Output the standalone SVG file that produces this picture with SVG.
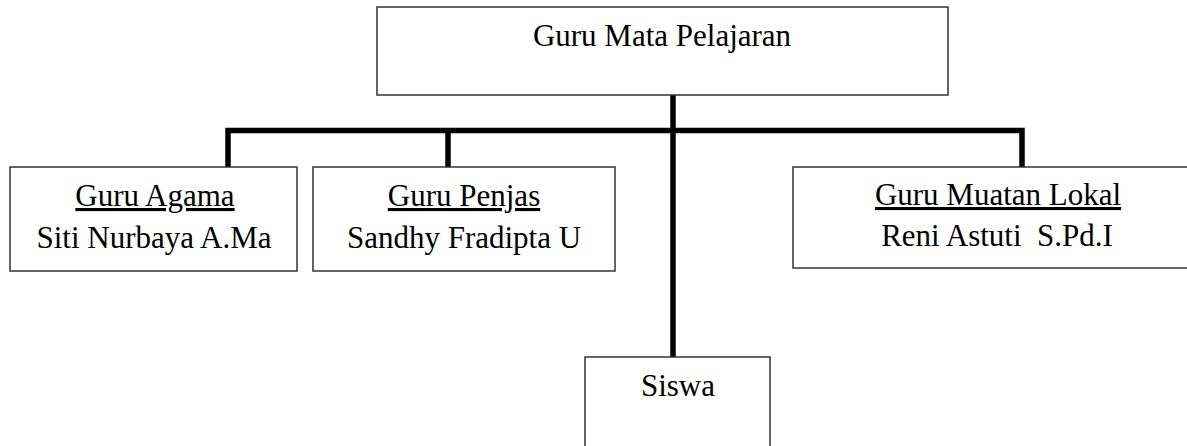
<svg xmlns="http://www.w3.org/2000/svg" width="1187" height="446" viewBox="0 0 1187 446">
<style>
.box{fill:#fff;stroke:#333;stroke-width:1.5}
.t{font-family:"Liberation Serif","Times New Roman",serif;font-size:31px;fill:#000;text-anchor:middle}
.u{text-decoration:underline}
.c{fill:none;stroke:#000;stroke-width:5.5;stroke-linejoin:miter}
</style>
<rect width="1187" height="446" fill="#fff"/>
<g id="connectors">
<path class="c" d="M228,168 V130.5 H1022 V168"/>
<path class="c" d="M448,130.5 V168"/>
<path class="c" d="M673,95 V357"/>
</g>
<g id="guru-mata-pelajaran">
<rect class="box" x="377" y="7" width="571" height="88"/>
<text class="t" x="662" y="46">Guru Mata Pelajaran</text>
</g>
<g id="guru-agama">
<rect class="box" x="10" y="167" width="287" height="104"/>
<text class="t u" x="155" y="206">Guru Agama</text>
<text class="t" x="154" y="248">Siti Nurbaya A.Ma</text>
</g>
<g id="guru-penjas">
<rect class="box" x="313" y="167" width="302" height="104"/>
<text class="t u" x="464" y="206">Guru Penjas</text>
<text class="t" x="464" y="248">Sandhy Fradipta U</text>
</g>
<g id="guru-muatan-lokal">
<rect class="box" x="793" y="167" width="410" height="101"/>
<text class="t u" x="998" y="205">Guru Muatan Lokal</text>
<text class="t" x="997" y="246" xml:space="preserve">Reni Astuti  S.Pd.I</text>
</g>
<g id="siswa">
<rect class="box" x="585" y="357" width="185" height="100"/>
<text class="t" x="678" y="396">Siswa</text>
</g>
</svg>
